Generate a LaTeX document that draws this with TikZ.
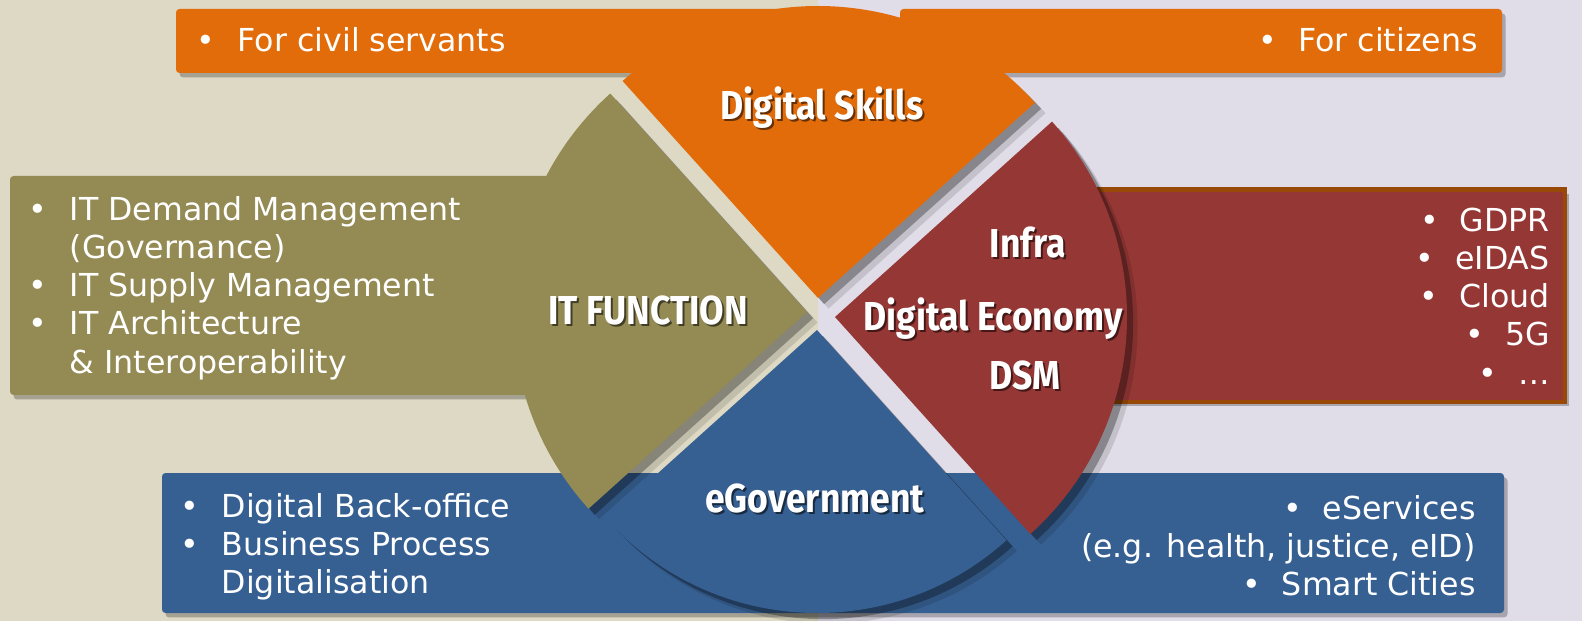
\documentclass[tikz,border=0pt]{standalone}
\usepackage{fontspec}
\setmainfont{DejaVu Sans}
\newfontfamily\slicefont{Fira Sans}[FakeStretch=0.88]
\usetikzlibrary{shadows}

\definecolor{skillorange}{HTML}{E36C0A}
\definecolor{itolive}{HTML}{948A54}
\definecolor{econred}{HTML}{953735}
\definecolor{egovblue}{HTML}{376092}
\definecolor{econedge}{HTML}{984807}
\definecolor{bgbeige}{HTML}{DDD9C4}
\definecolor{bglilac}{HTML}{E0DCE8}

\tikzset{
  boxshadow/.style={drop shadow={shadow xshift=2pt, shadow yshift=-2.5pt, fill=black, opacity=.25}},
  infobox/.style={rounded corners=2pt, boxshadow},
  piece/.style={drop shadow={shadow xshift=6pt, shadow yshift=-6pt, fill=black, opacity=.12},
                drop shadow={shadow xshift=3.5pt, shadow yshift=-3.5pt, fill=black, opacity=.3}},
  lst/.style={inner sep=0pt, text=white, font=\fontsize{18pt}{21.8pt}\selectfont},
  lbl/.style={inner sep=0pt, anchor=base, text=white, font=\slicefont\bfseries\fontsize{23pt}{27pt}\selectfont},
}

\begin{document}
\begin{tikzpicture}[x=0.02cm, y=0.02cm]

		\useasboundingbox (0,0) rectangle (1582,-621);
		\fill[bgbeige] (0,0) rectangle (818,-621);
		\fill[bglilac] (818,0) rectangle (1582,-621);

		\fill[skillorange, infobox] (176,-9) rectangle (800,-73);
		\fill[skillorange, infobox] (900,-9) rectangle (1502,-73);
		\fill[itolive, infobox] (10,-176) rectangle (640,-395);
		\filldraw[econred, draw=econedge, line width=2.8pt, boxshadow] (1000,-189.5) rectangle (1565,-402);
		\fill[egovblue, infobox] (162,-473) rectangle (1504,-613);

		\fill[skillorange, piece] (818,-298) -- ++(42:292) arc[start angle=42, end angle=132, radius=292] -- cycle;
		\fill[econred, piece] (835,-317) -- ++(-48:292) arc[start angle=-48, end angle=42, radius=292] -- cycle;
		\fill[egovblue, piece] (817,-330) -- ++(222:283) arc[start angle=222, end angle=312, radius=283] -- cycle;
		\fill[itolive, piece] (807,-312) -- ++(132:294) arc[start angle=132, end angle=222, radius=294] -- cycle;

		\node[lst, anchor=base west] (civil) at (196,-52) {•\hspace{13pt}For civil servants};
		\node[lst, anchor=base east] (citizens) at (1478,-52) {•\hspace{12pt}For citizens};
		\node[lst, anchor=west] (itlist) at (28,-289) {\begin{tabular}{@{}l@{\hspace{13pt}}l@{}}
			• & IT Demand Management\\
			  & (Governance)\\
			• & IT Supply Management\\
			• & IT Architecture\\
			  & \& Interoperability
		\end{tabular}};
		\node[lst, anchor=east] (econlist) at (1550,-300) {\begin{tabular}{@{}r@{}}
			•\hspace{12pt}GDPR\\
			•\hspace{12pt}eIDAS\\
			•\hspace{12pt}Cloud\\
			•\hspace{12pt}5G\\
			•\hspace{12pt}…
		\end{tabular}};
		\node[lst, anchor=west] (backoffice) at (180,-548) {\begin{tabular}{@{}l@{\hspace{13pt}}l@{}}
			• & Digital Back-office\\
			• & Business Process\\
			  & Digitalisation
		\end{tabular}};
		\node[lst, anchor=east] (eservices) at (1476,-550) {\begin{tabular}{@{}r@{}}
			•\hspace{12pt}eServices\\
			(e.g. health, justice, eID)\\
			•\hspace{12pt}Smart Cities
		\end{tabular}};

		\foreach \nm/\txt/\px/\py in {skills/Digital Skills/822/120, itf/IT FUNCTION/648/325, infra/Infra/1028/258, econ/Digital Economy/993/331, dsm/DSM/1025/390, egov/eGovernment/815/512}{
			\node[lbl, text=black, opacity=.55] (\nm-sh) at (\px+2,-\py-2) {\txt};
			\node[lbl] (\nm) at (\px,-\py) {\txt};
		}
\end{tikzpicture}
\end{document}
